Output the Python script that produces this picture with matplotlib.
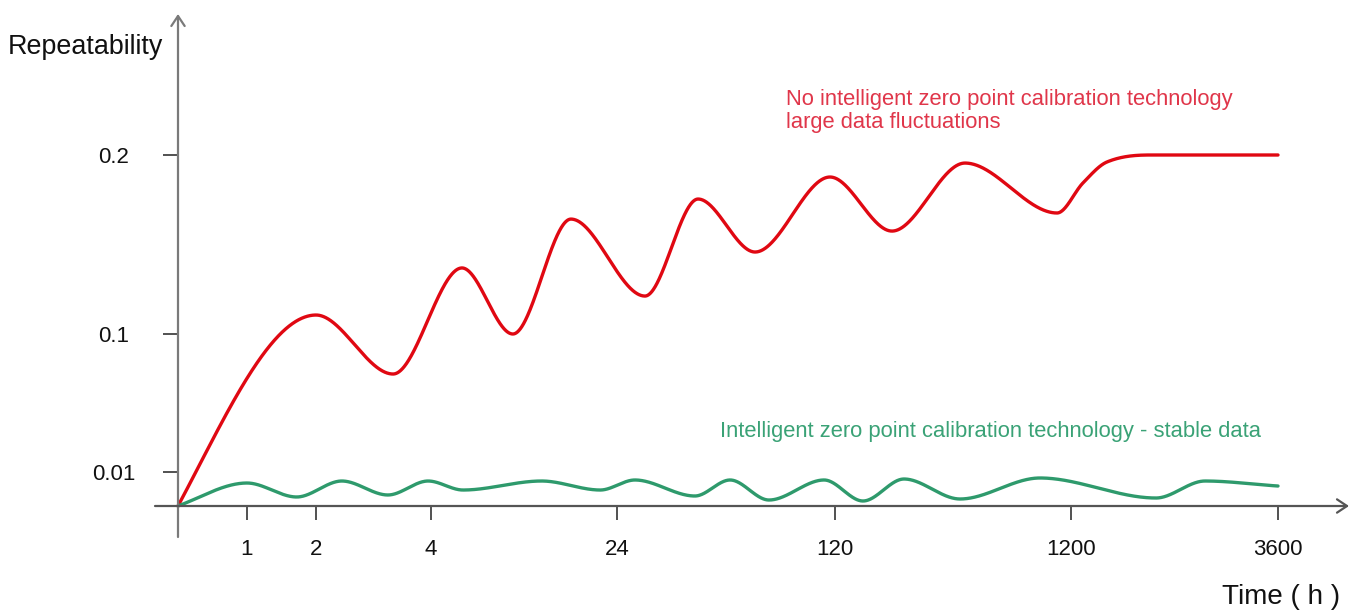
import numpy as np
import matplotlib
matplotlib.use("Agg")
import matplotlib.pyplot as plt

plt.rcParams['font.family'] = ['Liberation Sans', 'DejaVu Sans']

# ---- data (hours, repeatability) ----
x_ticks = [1, 2, 4, 24, 120, 1200, 3600]
x_tick_labels = ["1", "2", "4", "24", "120", "1200", "3600"]
y_ticks = [0.01, 0.1, 0.2]
y_tick_labels = ["0.01", "0.1", "0.2"]

# axis breakpoints of the (non-uniform) drawn scales
x_knots = [0, 1, 2, 4, 24, 120, 1200, 3600]
x_knot_pos = [0, 69, 138, 253, 439, 657, 893, 1100]
y_knots = [0, 0.01, 0.1, 0.2]
y_knot_pos = [0, 34, 172, 351]

red_t = [0, 2, 3.34, 7.33, 12.8, 19.05, 36.3, 59.7, 84.8, 117.8,
         380.8, 714.9, 1136, 1339, 1617, 2116, 2614.5, 3600]
red_v = [0.0, 0.1106, 0.0739, 0.1369, 0.1000, 0.1642, 0.1212,
         0.1754, 0.1458, 0.1877, 0.1575, 0.1955, 0.1676, 0.1844, 0.1961,
         0.2008, 0.2017, 0.2000]

green_t = [0, 1, 1.72, 2.45, 3.25, 3.95, 7.44, 15.9, 22.2, 31.9, 58.3,
           73.8, 90.9, 115.2, 248, 435.8, 692, 1058, 2185.5, 2753.6, 3600]
green_v = [0.0, 0.00676, 0.00265, 0.00735, 0.00324, 0.00735, 0.0047,
           0.00735, 0.0047, 0.00765, 0.00294, 0.00765, 0.00176, 0.00765,
           0.00147, 0.00794, 0.00206, 0.00824, 0.00235, 0.00735, 0.00588]


def make_fwd(knots, pos):
    k = np.asarray(knots, float)
    p = np.asarray(pos, float)
    return (lambda v: np.interp(v, k, p)), (lambda q: np.interp(q, p, k))


fx, ix = make_fwd(x_knots, x_knot_pos)
fy, iy = make_fwd(y_knots, y_knot_pos)


def hermite(x, y, xn, start_factor):
    """Smooth curve: flat tangents at extrema, central slopes elsewhere."""
    x = np.asarray(x, float); y = np.asarray(y, float)
    h = np.diff(x); d = np.diff(y) / h
    n = len(x); m = np.zeros(n)
    for k in range(1, n - 1):
        if d[k - 1] * d[k] <= 0:
            m[k] = 0.0
        else:
            m[k] = (y[k + 1] - y[k - 1]) / (x[k + 1] - x[k - 1])
    m[0] = d[0] * start_factor
    m[-1] = d[-1] if d[-1] * d[-2] > 0 else d[-1] * 0.9
    idx = np.clip(np.searchsorted(x, xn) - 1, 0, n - 2)
    t = (xn - x[idx]) / h[idx]
    h00 = 2 * t**3 - 3 * t**2 + 1; h10 = t**3 - 2 * t**2 + t
    h01 = -2 * t**3 + 3 * t**2; h11 = t**3 - t**2
    return (h00 * y[idx] + h10 * h[idx] * m[idx] + h01 * y[idx + 1]
            + h11 * h[idx] * m[idx + 1])


def smooth(tv, vv, start_factor):
    px = fx(np.asarray(tv, float)); py = fy(np.asarray(vv, float))
    xs = np.linspace(px[0], px[-1], 3000)
    ys = hermite(px, py, xs, start_factor)
    return ix(xs), iy(ys)


W, H = 1357, 610
fig = plt.figure(figsize=(W / 100, H / 100), dpi=100)
ax = fig.add_axes([178 / W, (H - 506) / H, 1100 / W, 351 / H])
ax.set_xscale('function', functions=(fx, ix))
ax.set_yscale('function', functions=(fy, iy))
ax.set_xlim(0, 3600)
ax.set_ylim(0, 0.2)

rx, ry = smooth(red_t, red_v, 1.35)
gx, gy = smooth(green_t, green_v, 1.1)
ax.plot(rx, ry, color='#e00812', lw=2.4, clip_on=False, zorder=3,
        solid_capstyle='round')
ax.plot(gx, gy, color='#2e9a6c', lw=2.4, clip_on=False, zorder=3,
        solid_capstyle='round')

for s in ax.spines.values():
    s.set_visible(False)

ax.set_xticks(x_ticks)
ax.set_xticklabels(x_tick_labels)
ax.set_yticks(y_ticks)
ax.set_yticklabels(y_tick_labels)
ax.minorticks_off()
ax.tick_params(axis='x', direction='out', length=10, width=1.2,
               color='#333333', labelsize=16, pad=14, labelcolor='#111111')
ax.tick_params(axis='y', direction='out', length=10.5, width=1.2,
               color='#333333', labelsize=16, pad=36, labelcolor='#111111')
for lab in ax.get_yticklabels():
    lab.set_horizontalalignment('center')

axis_col = '#7a7a7a'
arrow = dict(arrowstyle='->,head_length=0.45,head_width=0.3', color=axis_col,
             lw=1.6, shrinkA=0, shrinkB=0, mutation_scale=16)
ax.annotate('', xy=(0, (506 - 14) / 351), xytext=(0, (506 - 537) / 351),
            xycoords='axes fraction', textcoords='axes fraction',
            arrowprops=arrow, annotation_clip=False)
ax.annotate('', xy=((1349 - 178) / 1100, 0), xytext=((155 - 178) / 1100, 0),
            xycoords='axes fraction', textcoords='axes fraction',
            arrowprops=dict(arrow, color='#555555'), annotation_clip=False)

fig.text(8 / W, 1 - 47 / H, "Repeatability", fontsize=19.4, color='#111111',
         ha='left', va='center')
fig.text(1222 / W, 1 - 597 / H, "Time ( h )", fontsize=20, color='#111111',
         ha='left', va='center')
fig.text(786 / W, 1 - 99 / H, "No intelligent zero point calibration technology",
         fontsize=15.8, color='#e0364a', ha='left', va='center')
fig.text(786 / W, 1 - 123 / H, "large data fluctuations",
         fontsize=15.8, color='#e0364a', ha='left', va='center')
fig.text(720 / W, 1 - 432 / H,
         "Intelligent zero point calibration technology - stable data",
         fontsize=15.8, color='#3aa276', ha='left', va='center')

fig.savefig("out.png", dpi=100, facecolor='white')
